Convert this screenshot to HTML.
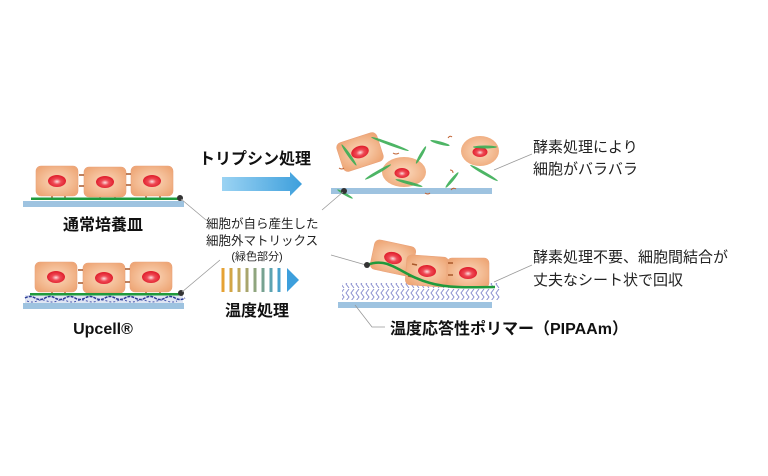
<!DOCTYPE html>
<html><head><meta charset="utf-8"><style>
html,body{margin:0;padding:0;background:#fff;}
svg{display:block;font-family:"Liberation Sans","Noto Sans CJK JP",sans-serif;}
</style></head><body>
<svg width="768" height="476" viewBox="0 0 768 476" xmlns="http://www.w3.org/2000/svg">
<defs>
<radialGradient id="cell" cx="50%" cy="50%" r="60%"><stop offset="0" stop-color="#fbd9bd"/><stop offset="1" stop-color="#eea777"/></radialGradient>
<radialGradient id="nuc" cx="50%" cy="55%" r="50%"><stop offset="0" stop-color="#fde0e0"/><stop offset="0.45" stop-color="#ef4a55"/><stop offset="1" stop-color="#e0202e"/></radialGradient>
<linearGradient id="arr" x1="0" x2="1"><stop offset="0" stop-color="#9bd3f3"/><stop offset="1" stop-color="#3d9fdc"/></linearGradient>
<g id="c"><rect x="-21" y="-15" width="42" height="30" rx="5" fill="url(#cell)" stroke="#e9a27a" stroke-width="0.6"/><ellipse cx="0" cy="0" rx="9" ry="6" fill="url(#nuc)"/></g>
<pattern id="zz" width="5" height="17" patternUnits="userSpaceOnUse"><path d="M4 0 L1 4 L4 8 L1 12 L4 16" fill="none" stroke="#8a8fcf" stroke-width="1"/></pattern>
</defs>
<!-- left top -->
<rect x="23" y="201" width="161" height="6" fill="#9ec3e0"/>
<g stroke="#a8582a" stroke-width="1.5">
<line x1="52" y1="196" x2="52" y2="199"/><line x1="65" y1="196" x2="65" y2="199"/><line x1="100" y1="196" x2="100" y2="199"/><line x1="115" y1="196" x2="115" y2="199"/><line x1="146" y1="196" x2="146" y2="199"/><line x1="160" y1="196" x2="160" y2="199"/>
</g>
<use href="#c" x="57" y="181"/><use href="#c" x="105" y="182"/><use href="#c" x="152" y="181"/>
<g stroke="#a8582a" stroke-width="1.5"><line x1="79" y1="175" x2="84" y2="175"/><line x1="79" y1="186" x2="84" y2="186"/><line x1="126" y1="174" x2="131" y2="174"/><line x1="126" y1="185" x2="131" y2="185"/></g>
<rect x="31" y="197.5" width="150" height="2.5" fill="#1f9a3c"/>
<circle cx="180" cy="198" r="3" fill="#333"/>
<text x="103" y="230" font-size="16" font-weight="bold" text-anchor="middle" fill="#111">通常培養皿</text>
<!-- left bottom -->
<rect x="23" y="303" width="161" height="6" fill="#9ec3e0"/>
<rect x="25" y="295" width="158" height="8" fill="#dfe5f3"/>
<path d="M25 298 q5 -3 10 0 t10 0 t10 0 t10 0 t10 0 t10 0 t10 0 t10 0 t10 0 t10 0 t10 0 t10 0 t10 0 t10 0 t10 0 t10 0" fill="none" stroke="#2b3a95" stroke-width="1.5" stroke-dasharray="3 1"/>
<path d="M27 301 q5 2 10 0 t10 0 t10 0 t10 0 t10 0 t10 0 t10 0 t10 0 t10 0 t10 0 t10 0 t10 0 t10 0 t10 0 t10 0" fill="none" stroke="#4a5ab0" stroke-width="1" stroke-dasharray="2 2"/>
<g stroke="#a8582a" stroke-width="1.5">
<line x1="52" y1="290" x2="52" y2="294"/><line x1="65" y1="290" x2="65" y2="294"/><line x1="100" y1="290" x2="100" y2="294"/><line x1="115" y1="290" x2="115" y2="294"/><line x1="146" y1="290" x2="146" y2="294"/><line x1="160" y1="290" x2="160" y2="294"/>
</g>
<use href="#c" x="56" y="277"/><use href="#c" x="104" y="278"/><use href="#c" x="151" y="277"/>
<g stroke="#a8582a" stroke-width="1.5"><line x1="78" y1="270" x2="83" y2="270"/><line x1="78" y1="283" x2="83" y2="283"/><line x1="125" y1="269" x2="130" y2="269"/><line x1="125" y1="282" x2="130" y2="282"/></g>
<rect x="30" y="293" width="151" height="2.5" fill="#1f9a3c"/>
<circle cx="181" cy="293" r="3" fill="#333"/>
<text x="103" y="334" font-size="16" font-weight="bold" text-anchor="middle" fill="#111">Upcell®</text>
<!-- center -->
<line x1="181" y1="199" x2="206" y2="220" stroke="#999" stroke-width="0.8"/>
<line x1="182" y1="292" x2="220" y2="260" stroke="#999" stroke-width="0.8"/>
<text x="206" y="228" font-size="12.5" fill="#222">細胞が自ら産生した</text>
<text x="206" y="245" font-size="12.5" fill="#222">細胞外マトリックス</text>
<text x="257" y="260" font-size="11" text-anchor="middle" fill="#222">(緑色部分)</text>
<text x="199" y="164" font-size="16" font-weight="bold" fill="#111">トリプシン処理</text>
<path d="M222 177 H290 V172 L302 184 L290 196 V191 H222 Z" fill="url(#arr)"/>
<g stroke-width="3">
<line x1="223" y1="268" x2="223" y2="292" stroke="#e6a233"/><line x1="231" y1="268" x2="231" y2="292" stroke="#d3a645"/><line x1="239" y1="268" x2="239" y2="292" stroke="#c0a85a"/><line x1="247" y1="268" x2="247" y2="292" stroke="#a8a56c"/><line x1="255" y1="268" x2="255" y2="292" stroke="#8fa57e"/><line x1="263" y1="268" x2="263" y2="292" stroke="#77a291"/><line x1="271" y1="268" x2="271" y2="292" stroke="#5ea3b0"/><line x1="279" y1="268" x2="279" y2="292" stroke="#48a1cb"/></g>
<path d="M287 268 L299 280 L287 292 Z" fill="#3d9fdc"/>
<text x="225" y="316" font-size="16" font-weight="bold" fill="#111">温度処理</text>
<!-- right top -->
<rect x="331" y="188" width="161" height="6" fill="#9ec3e0"/>
<g transform="translate(360,152) rotate(-18)"><use href="#c"/></g>
<ellipse cx="404" cy="172" rx="22" ry="15" fill="url(#cell)"/><ellipse cx="402" cy="173" rx="7.5" ry="5" fill="url(#nuc)"/>
<ellipse cx="480" cy="151" rx="19" ry="15" fill="url(#cell)"/><ellipse cx="480" cy="152" rx="7.5" ry="5" fill="url(#nuc)"/>
<g fill="#3aae55" opacity="0.9">
<ellipse cx="390" cy="144" rx="20" ry="1.5" transform="rotate(20 390 144)"/>
<ellipse cx="349" cy="155" rx="13" ry="1.5" transform="rotate(55 349 155)"/>
<ellipse cx="378" cy="172" rx="15" ry="1.5" transform="rotate(-30 378 172)"/>
<ellipse cx="421" cy="155" rx="10" ry="1.5" transform="rotate(-60 421 155)"/>
<ellipse cx="440" cy="143" rx="10" ry="1.5" transform="rotate(15 440 143)"/>
<ellipse cx="409" cy="183" rx="14" ry="1.5" transform="rotate(15 409 183)"/>
<ellipse cx="452" cy="180" rx="10" ry="1.5" transform="rotate(-50 452 180)"/>
<ellipse cx="485" cy="147" rx="12" ry="1.5"/>
<ellipse cx="484" cy="173" rx="16" ry="1.5" transform="rotate(30 484 173)"/>
<ellipse cx="345" cy="194" rx="9" ry="1.3" transform="rotate(30 345 194)"/>
</g>
<g fill="none" stroke="#c06030" stroke-width="1"><path d="M339 168 q3 2 5 0"/><path d="M393 153 q3 2 6 0"/><path d="M448 138 q2 -3 4 -1"/><path d="M451 190 q2 -3 5 -1"/><path d="M425 193 q3 2 5 0"/><path d="M450 170 q3 0 3 3"/></g>
<circle cx="344" cy="191" r="3" fill="#333"/>
<line x1="343" y1="192" x2="322" y2="210" stroke="#999" stroke-width="0.8"/>
<line x1="494" y1="170" x2="532" y2="154" stroke="#999" stroke-width="0.8"/>
<text x="533" y="152" font-size="15" fill="#222">酵素処理により</text>
<text x="533" y="174" font-size="15" fill="#222">細胞がバラバラ</text>
<!-- right bottom -->
<rect x="338" y="302" width="154" height="6" fill="#9ec3e0"/>
<rect x="342" y="283" width="158" height="17" fill="url(#zz)"/>
<line x1="331" y1="255" x2="366" y2="265" stroke="#999" stroke-width="0.8"/>
<g transform="translate(393,258) rotate(12)"><use href="#c"/></g>
<g transform="translate(427,271) rotate(4)"><use href="#c"/></g>
<use href="#c" x="468" y="273"/>
<g stroke="#a8582a" stroke-width="1.5"><line x1="412" y1="264" x2="417" y2="265"/><line x1="408" y1="276" x2="413" y2="277"/><line x1="448" y1="263" x2="453" y2="263"/><line x1="448" y1="275" x2="453" y2="275"/></g>
<path d="M367 265 C390 256 400 275 430 283 C450 289 480 287 495 287" fill="none" stroke="#1f9a3c" stroke-width="2.5"/>
<circle cx="367" cy="265" r="3" fill="#333"/>
<line x1="494" y1="282" x2="532" y2="265" stroke="#999" stroke-width="0.8"/>
<text x="533" y="262" font-size="15" fill="#222">酵素処理不要、細胞間結合が</text>
<text x="533" y="285" font-size="15" fill="#222">丈夫なシート状で回収</text>
<path d="M355 305 L372 327 H385" fill="none" stroke="#999" stroke-width="0.8"/>
<text x="390" y="334" font-size="16" font-weight="bold" fill="#111">温度応答性ポリマー（PIPAAm）</text>
</svg>
</body></html>
